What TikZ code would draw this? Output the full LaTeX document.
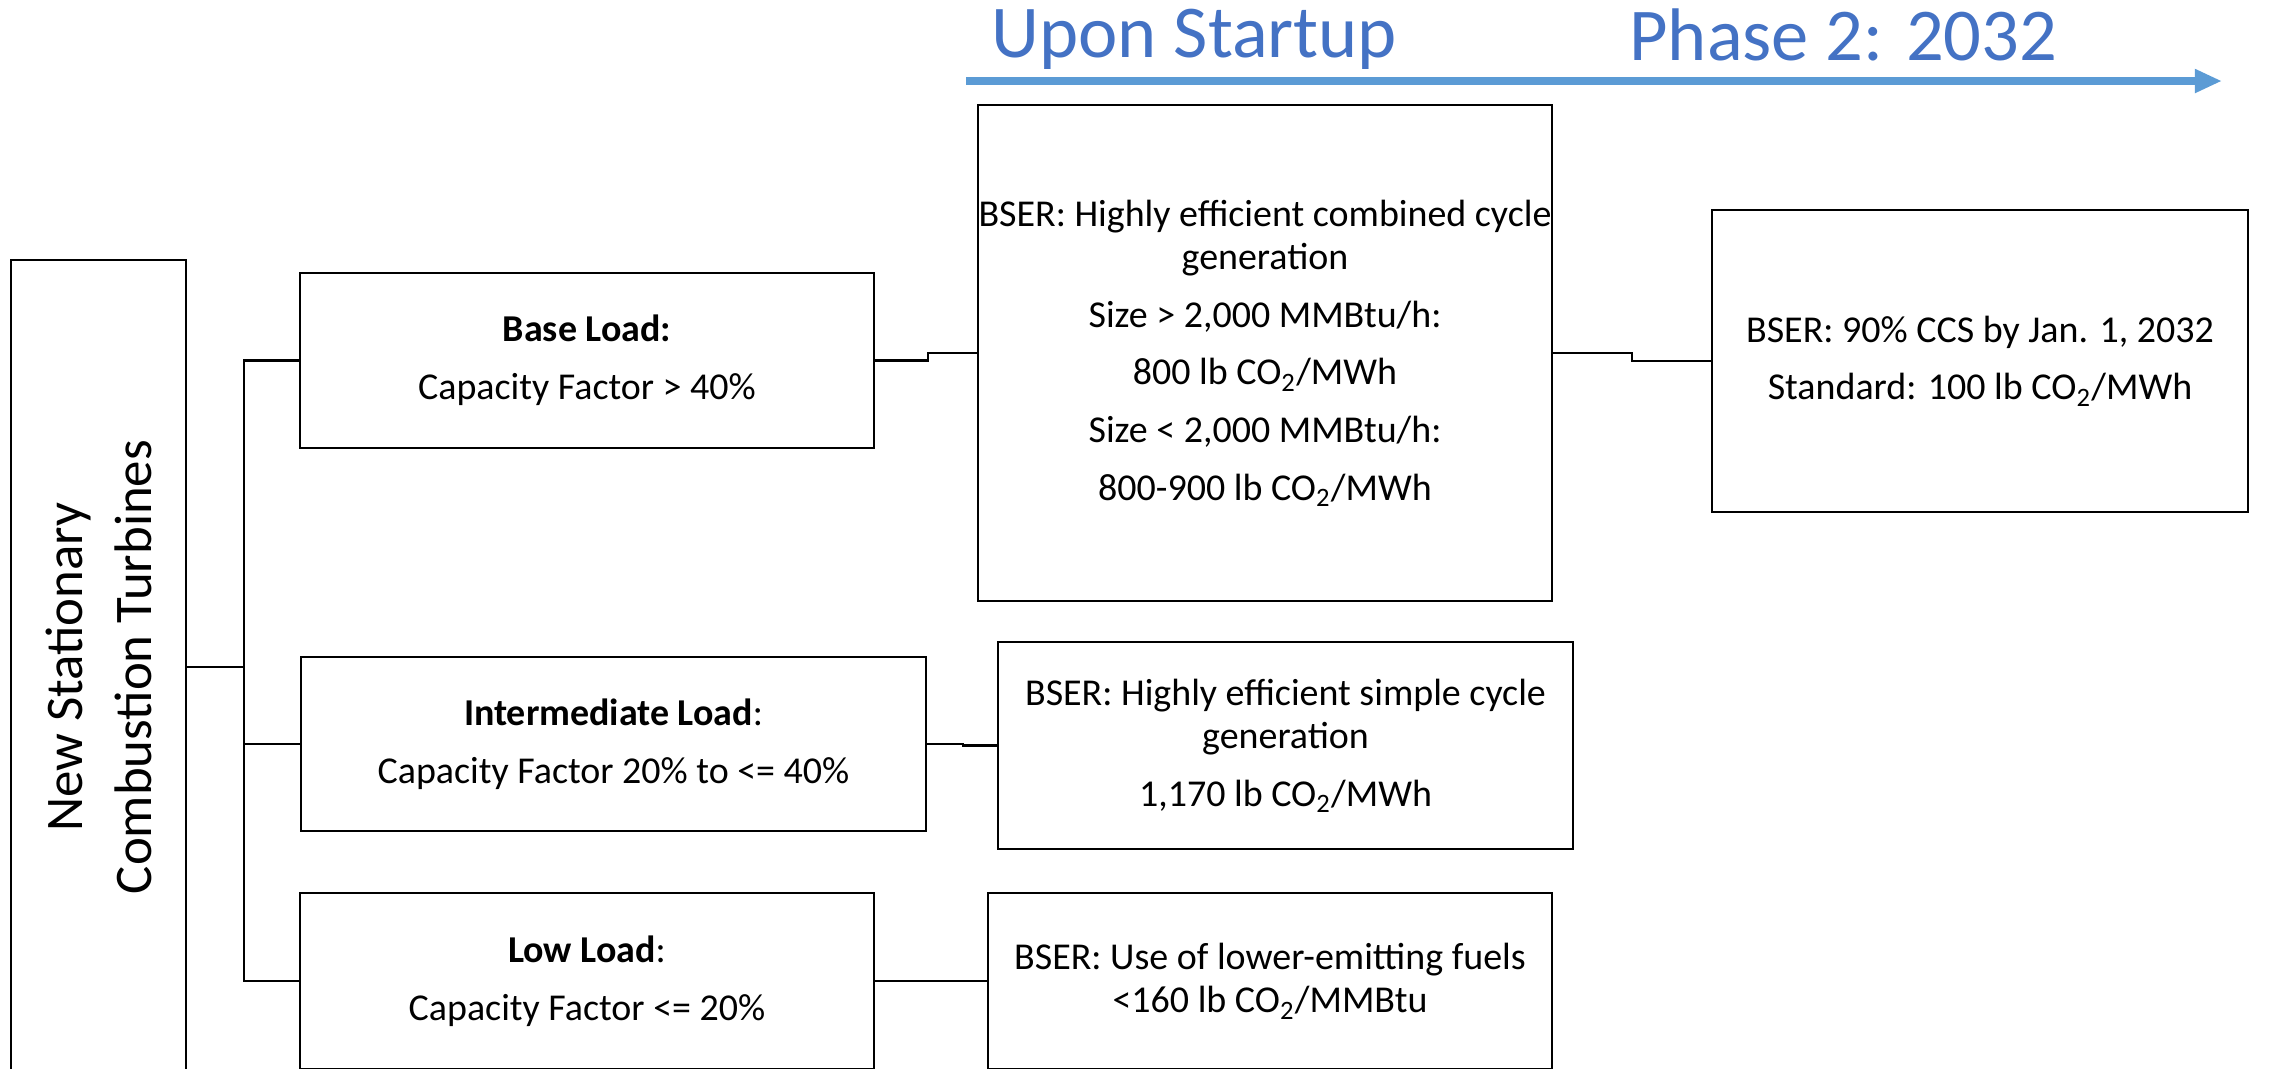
\documentclass[tikz,border=0pt]{standalone}
\usepackage{fontspec}
\setmainfont{Carlito}
\usepackage{xcolor}
\usetikzlibrary{arrows.meta}
\definecolor{titleblue}{HTML}{4472C4}
\definecolor{lineblue}{HTML}{5B9BD5}

\begin{document}
\begin{tikzpicture}[
    box/.style={draw=black, line width=0.85pt, inner sep=0pt, align=center,
      font=\fontsize{13.5}{15.5}\selectfont},
    link/.style={draw=black, line width=0.85pt},
    phase/.style={inner sep=0pt, text=titleblue,
      font=\fontsize{26.5}{30}\selectfont}]
  \useasboundingbox (0,0) rectangle (28.65,-13.35);

  % timeline
  \node[phase, anchor=base west] (start) at (12.39,-0.72) {Upon Startup};
  \node[phase, anchor=base east] (phase2) at (25.72,-0.76) {Phase 2: 2032};
  \coordinate (t0) at (12.075,-1.0125);
  \coordinate (t1) at (27.775,-1.0125);
  \draw[lineblue, line width=2.85pt, -{Triangle[length=3.4mm,width=2.8mm]}] (t0) -- (t1);

  % source
  \node[box, rotate=90, minimum width=10.175cm, minimum height=2.1875cm,
    font=\fontsize{18.8}{24.5}\selectfont] (src) at (1.231,-8.3375)
    {New Stationary\\Combustion Turbines};

  % load classes
  \node[box, minimum width=7.175cm, minimum height=2.1875cm] (base) at (7.3375,-4.50625)
    {\textbf{Base Load:}\\[5pt]Capacity Factor > 40\%};
  \node[box, minimum width=7.8125cm, minimum height=2.175cm] (inter) at (7.669,-9.3)
    {\textbf{Intermediate Load}:\\[5pt]Capacity Factor 20\% to <= 40\%};
  \node[box, minimum width=7.175cm, minimum height=2.2cm] (low) at (7.3375,-12.2625)
    {\textbf{Low Load}:\\[5pt]Capacity Factor <= 20\%};

  % standards upon startup
  \node[box, minimum width=7.175cm, minimum height=6.2cm] (comb) at (15.8125,-4.4125)
    {BSER: Highly efficient combined cycle\\generation\\[5pt]Size > 2,000 MMBtu/h:\\[5pt]800 lb CO\textsubscript{2}/MWh\\[5pt]Size < 2,000 MMBtu/h:\\[5pt]800-900 lb CO\textsubscript{2}/MWh};
  \node[box, minimum width=7.1875cm, minimum height=2.5875cm] (simple) at (16.069,-9.319)
    {BSER: Highly efficient simple cycle\\generation\\[5pt]1,170 lb CO\textsubscript{2}/MWh};
  \node[box, minimum width=7.05cm, minimum height=2.2cm] (fuel) at (15.875,-12.2625)
    {BSER: Use of lower-emitting fuels\\<160 lb CO\textsubscript{2}/MMBtu};

  % phase 2
  \node[box, minimum width=6.7cm, minimum height=3.775cm] (ccs) at (24.75,-4.5125)
    {BSER: 90\% CCS by Jan. 1, 2032\\[5pt]Standard: 100 lb CO\textsubscript{2}/MWh};

  % connectors
  \draw[link] (src.south) -- ++(0.7125,0) coordinate (trunk);
  \draw[link] (base.west) -| (trunk) |- (low.west);
  \draw[link] (trunk |- inter.west) -- (inter.west);
  \draw[link] (base.east) -- ++(0.6625,0) |- (comb.west);
  \draw[link] (comb.east) -- ++(0.9875,0) |- (ccs.west);
  \draw[link] (inter.east) -- ++(0.45,0) |- (simple.west);
  \draw[link] (low.east) -- (fuel.west);
\end{tikzpicture}
\end{document}
